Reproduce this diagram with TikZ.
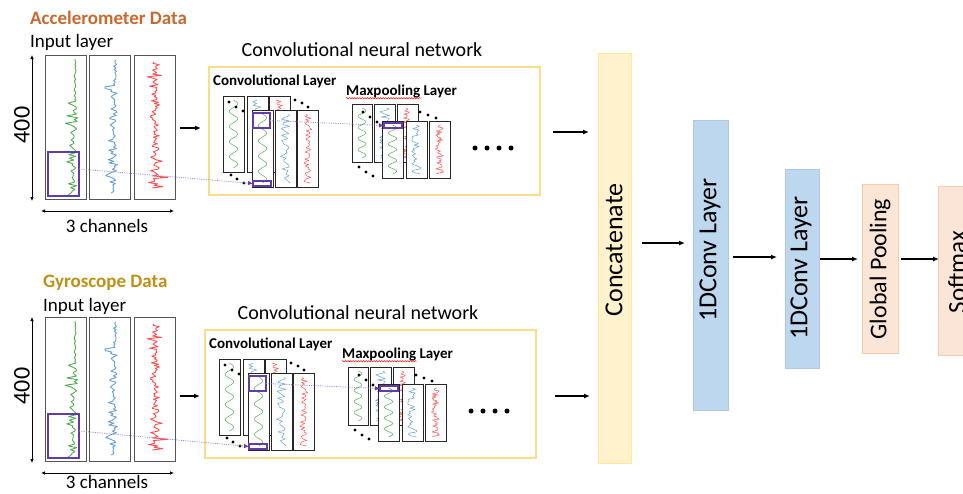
\documentclass[tikz,border=0pt]{standalone}
\usepackage{fontspec}
\setmainfont{Carlito}
\usetikzlibrary{arrows.meta,decorations.pathmorphing}

\definecolor{inkpurple}{RGB}{96,60,170}
\definecolor{linkpurple}{RGB}{150,135,220}
\definecolor{sgreen}{RGB}{85,172,85}
\definecolor{sblue}{RGB}{100,160,215}
\definecolor{sred}{RGB}{255,80,80}
\definecolor{accorange}{RGB}{200,105,45}
\definecolor{gyrogold}{RGB}{190,145,20}
\definecolor{cnnedge}{RGB}{250,222,135}
\definecolor{catfill}{RGB}{255,242,204}
\definecolor{catedge}{RGB}{255,230,153}
\definecolor{convfill}{RGB}{189,215,238}
\definecolor{convedge}{RGB}{172,202,232}
\definecolor{poolfill}{RGB}{251,229,214}
\definecolor{pooledge}{RGB}{248,203,173}
\definecolor{chanedge}{RGB}{85,85,85}

% rectangle node given by its corners (x1,y1) (x2,y2)
\newcommand{\bx}[6]{%
  \pgfmathsetmacro\bxw{#4-#2}\pgfmathsetmacro\bxh{#5-#3}%
  \node[#6, anchor=north west, inner sep=0pt, outer sep=0pt,
        minimum width=\bxw pt, minimum height=\bxh pt] (#1) at (#2,#3) {};}

% feature maps: green sine, blue and red noise
\newcommand{\gmap}[5]{%
  \bx{#1}{#2}{#3}{#4}{#5}{fmap}
  \draw[mapwave,sgreen] plot[variable=\t,domain=0:1,samples=70,smooth]
    ({(#2+#4)/2+0.2*(#4-#2)*sin(\t*1620)},{#3+4+\t*(#5-#3-8)});}
\newcommand{\bmap}[6]{%
  \bx{#1}{#2}{#3}{#4}{#5}{fmap}
  \pgfmathsetseed{#6}
  \draw[mapwave,sblue] plot[variable=\t,domain=0:1,samples=40]
    ({(#2+#4)/2+0.24*(#4-#2)*rand},{#3+4+\t*(#5-#3-8)});}
\newcommand{\rmap}[6]{%
  \bx{#1}{#2}{#3}{#4}{#5}{fmap}
  \pgfmathsetseed{#6}
  \draw[mapwave,sred] plot[variable=\t,domain=0:1,samples=50]
    ({(#2+#4)/2+0.2*(#4-#2)*rand},{#3+4+\t*(#5-#3-8)});}

\newcommand{\dotrow}[3]{\fill (#1) circle (1.7pt) (#2) circle (1.7pt) (#3) circle (1.7pt);}

% three raw sensor channels with their size arrows
\newcommand{\inputstack}[1]{%
  \bx{ch#1a}{45}{55}{86}{199}{chan}
  \bx{ch#1b}{89}{55}{130}{199}{chan}
  \bx{ch#1c}{134}{55}{175}{199}{chan}
  \pgfmathsetseed{7}
  \draw[inwave,sgreen] plot[variable=\t,domain=0:1,samples=75]
    ({75+1*rand+(\t>0.3)*(3*rand-15*abs(rand*rand*rand))},{59+\t*136});
  \pgfmathsetseed{21}
  \draw[inwave,sblue] plot[variable=\t,domain=0:1,samples=85]
    ({115+1.5*rand+(\t>0.2)*(2.5*rand-17*abs(rand*rand*rand))},{60+\t*133});
  \pgfmathsetseed{33}
  \draw[inwave,sred] plot[variable=\t,domain=0:1,samples=95]
    ({155+3*rand+14*rand*rand*rand},{62+\t*126});
  \bx{ip#1}{48}{152}{79}{196}{pbox}
  \draw[dbl] ([xshift=-13pt]ch#1a.north west) -- ([xshift=-13pt,yshift=-2pt]ch#1a.south west);
  \draw[dbl] ([shift={(-4pt,-12pt)}]ch#1a.south west) -- ([shift={(-1pt,-12pt)}]ch#1c.south east);
}

% convolution + max-pooling stage
\newcommand{\cnnstack}[1]{%
  \node[txt, font=\fontsize{20}{24}\selectfont] (tt#1) at (362,50) {Convolutional neural network};
  \bx{cnn#1}{209}{67}{540}{195}{cnnbox}
  \node[txt, font=\bfseries\fontsize{15}{18}\selectfont, anchor=west] (cl#1) at (213,81) {Convolutional Layer};
  \node[txt, font=\bfseries\fontsize{15}{18}\selectfont, anchor=west] (ml#1) at (346,92) {Maxpooling Layer};
  \draw[spell] ([yshift=0.5pt]ml#1.south west) -- ++(75,0);
  % convolutional maps
  \gmap{cv#1a}{223}{96}{244}{172}
  \bmap{cv#1b}{247}{96}{268}{172}{5}
  \rmap{cv#1c}{269}{96}{290}{172}{6}
  \dotrow{229,102}{236,107}{243,111}
  \dotrow{295,100}{302,103}{308,107}
  \dotrow{231,175}{237,179}{244,183}
  \gmap{cv#1d}{252}{110}{273}{187}
  \bmap{cv#1e}{275}{110}{296}{187}{8}
  \rmap{cv#1f}{297}{110}{318}{187}{9}
  \bx{ct#1}{253}{113}{270}{128}{pbox}
  \bx{cb#1}{253}{181}{271}{186}{pbox}
  % pooled maps
  \gmap{mp#1a}{352}{104}{372}{162}
  \bmap{mp#1b}{374}{104}{395}{162}{12}
  \rmap{mp#1c}{397}{104}{418}{162}{13}
  \dotrow{363,112}{370,117}{377,122}
  \dotrow{420,112}{428,115}{436,118}
  \dotrow{359,167}{366,172}{373,176}
  \gmap{mp#1d}{382}{121}{403}{178}
  \bmap{mp#1e}{406}{121}{427}{178}{15}
  \rmap{mp#1f}{429}{121}{450}{178}{16}
  \bx{mb#1}{384}{123}{402}{128}{pbox}
  \fill (475,148) circle (2.5pt) (487,148) circle (2.5pt) (499,148) circle (2.5pt) (511,148) circle (2.5pt);
}

\begin{document}
\begin{tikzpicture}[x=1pt,y=-1pt,
  txt/.style={inner sep=0pt},
  chan/.style={draw=chanedge, line width=0.9pt},
  fmap/.style={draw=black!85, line width=0.8pt, fill=white},
  pbox/.style={draw=inkpurple, line width=1.5pt},
  inwave/.style={line width=0.9pt, line join=round},
  mapwave/.style={line width=0.5pt, line join=round},
  cnnbox/.style={draw=cnnedge, line width=1.1pt},
  dbl/.style={{Latex[length=4pt,width=3.5pt]}-{Latex[length=4pt,width=3.5pt]}, line width=0.7pt},
  arr/.style={-{Latex[length=6pt,width=5pt]}, line width=1.6pt},
  link/.style={linkpurple, densely dotted, line width=0.8pt, -{Latex[length=5pt,width=4.5pt,color=inkpurple]}},
  spell/.style={red, line width=0.45pt, decorate, decoration={snake, amplitude=0.7pt, segment length=2.6pt}},
  layer/.style={line width=0.8pt},
  big/.style={txt, rotate=90, font=\fontsize{26}{30}\selectfont}]
\useasboundingbox (0,0) rectangle (963,493);

% ---------------- accelerometer branch
\node[txt, anchor=west, text=accorange, font=\bfseries\fontsize{19}{23}\selectfont] (accT) at (30,18) {Accelerometer Data};
\node[txt, anchor=west, font=\fontsize{19}{23}\selectfont] (inA) at (30,42) {Input layer};
\inputstack{A}
\node[txt, rotate=90, font=\fontsize{24}{28}\selectfont] (lenA) at (22,125) {400};
\node[txt, font=\fontsize{19}{23}\selectfont] (chnA) at (107,226) {3 channels};
\cnnstack{A}

% ---------------- gyroscope branch
\node[txt, anchor=west, text=gyrogold, font=\bfseries\fontsize{19}{23}\selectfont] (gyrT) at (43,283) {Gyroscope Data};
\node[txt, anchor=west, font=\fontsize{19}{23}\selectfont] (inB) at (43,306) {Input layer};
\begin{scope}[shift={(0,262)}]
  \inputstack{B}
\end{scope}
\node[txt, rotate=90, font=\fontsize{24}{28}\selectfont] (lenB) at (22,386) {400};
\node[txt, font=\fontsize{19}{23}\selectfont] (chnB) at (107,482) {3 channels};
\begin{scope}[shift={(-4,263)}]
  \cnnstack{B}
\end{scope}

% receptive fields carried through the stages
\draw[link] ([yshift=5pt]ipA.east) -- (cbA.west);
\draw[link] (ctA.east) -- (mbA.west);
\draw[link] ([yshift=5pt]ipB.east) -- (cbB.west);
\draw[link] (ctB.east) -- (mbB.west);

% ---------------- fusion head
\bx{cat}{598}{53}{631}{463}{layer, draw=catedge, fill=catfill}
\bx{cva}{693}{120}{728}{410}{layer, draw=convedge, fill=convfill}
\bx{cvb}{785}{169}{819}{368}{layer, draw=convedge, fill=convfill}
\bx{gp}{862}{184}{898}{353}{layer, draw=pooledge, fill=poolfill}
\bx{sm}{938}{186}{980}{355}{layer, draw=pooledge, fill=poolfill}
\node[big] (catT) at (614,250) {Concatenate};
\node[big] (cvaT) at (710,250) {1DConv Layer};
\node[big] (cvbT) at (801,268) {1DConv Layer};
\node[big, font=\fontsize{24}{28}\selectfont] (gpT) at (880,269) {Global Pooling};
\node[big, font=\fontsize{25}{29}\selectfont] (smT) at (957,272) {Softmax};

% ---------------- data flow
\coordinate (yA) at (0,128);
\coordinate (yB) at (0,396);
\coordinate (zA) at (0,132);
\coordinate (zB) at (0,396);
\coordinate (r1) at (0,243);
\coordinate (r2) at (0,257);
\coordinate (r3) at (0,259);
\draw[arr] ([xshift=5pt]chAc.east |- yA) -- ([xshift=-8pt]cnnA.west |- yA);
\draw[arr] ([xshift=5pt]chBc.east |- yB) -- ([xshift=-5pt]cnnB.west |- yB);
\draw[arr] ([xshift=13pt]cnnA.east |- zA) -- ([xshift=-9pt]cat.west |- zA);
\draw[arr] ([xshift=19pt]cnnB.east |- zB) -- ([xshift=-8pt]cat.west |- zB);
\draw[arr] ([xshift=11pt]cat.east |- r1) -- ([xshift=-8pt]cva.west |- r1);
\draw[arr] ([xshift=5pt]cva.east |- r2) -- ([xshift=-8pt]cvb.west |- r2);
\draw[arr] ([xshift=1pt]cvb.east |- r3) -- ([xshift=-4pt]gp.west |- r3);
\draw[arr] ([xshift=3pt]gp.east |- r3) -- ([xshift=1pt]sm.west |- r3);
\end{tikzpicture}
\end{document}
